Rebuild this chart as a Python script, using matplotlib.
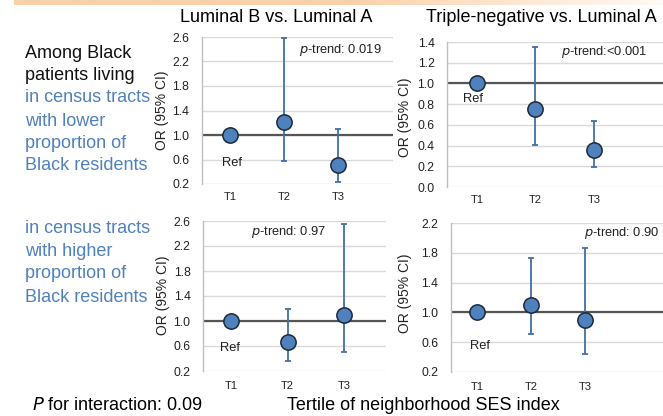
import numpy as np
import matplotlib
matplotlib.use("Agg")
import matplotlib.pyplot as plt

plt.rcParams['font.family'] = ['Liberation Sans', 'DejaVu Sans']

# ---------------- data ----------------
tertiles = ["T1", "T2", "T3"]
panel_titles = ["Luminal B vs. Luminal A", "Triple-negative vs. Luminal A"]

# top row: lower proportion of Black residents
lumb_low_or = [1.0, 1.22, 0.51]
lumb_low_lo = [1.0, 0.57, 0.24]
lumb_low_hi = [1.0, 2.58, 1.09]
tn_low_or = [1.0, 0.75, 0.36]
tn_low_lo = [1.0, 0.41, 0.19]
tn_low_hi = [1.0, 1.35, 0.64]

# bottom row: higher proportion of Black residents
lumb_high_or = [1.0, 0.66, 1.10]
lumb_high_lo = [1.0, 0.36, 0.50]
lumb_high_hi = [1.0, 1.19, 2.55]
tn_high_or = [1.0, 1.10, 0.90]
tn_high_lo = [1.0, 0.71, 0.44]
tn_high_hi = [1.0, 1.73, 1.87]

p_trends = ["0.019", "<0.001", "0.97", "0.90"]
row_labels_top = ["Among Black", "patients living"]
row_labels_low = ["in census tracts", "with lower", "proportion of", "Black residents"]
row_labels_high = ["in census tracts", "with higher", "proportion of", "Black residents"]

# ---------------- layout helpers ----------------
W, H = 663, 416
fig = plt.figure(figsize=(W / 100, H / 100), dpi=100)


def rect(x0, x1, ytop, ybot):
    return [x0 / W, 1 - ybot / H, (x1 - x0) / W, (ybot - ytop) / H]


def ftext(x, y, s, **kw):
    fig.text(x / W, 1 - y / H, s, **kw)


BLUE_TXT = "#4F81BD"
MK_FACE = "#4F81BD"
MK_EDGE = "#1C2A3E"
ERR_C = "#4270A6"

# orange gradient band at top
band = fig.add_axes([14 / W, 1 - 5 / H, (W - 14) / W, 5 / H])
n = 256
t = np.linspace(0, 1, n)
c0 = np.array([0xFB, 0xCF, 0xA7]) / 255
c1 = np.array([0xFF, 0xFA, 0xF5]) / 255
frac = np.clip((t - 0.5) / 0.5, 0, 1)
grad = (c0[None, :] * (1 - frac[:, None]) + c1[None, :] * frac[:, None])[None, :, :]
band.imshow(grad, aspect="auto", extent=[0, 1, 0, 1])
band.axis("off")

panels = [
    dict(r=rect(202, 393, 37, 184), xl=(0.48, 4.02), yl=(0.2, 2.6), yt=np.arange(0.2, 2.61, 0.4),
         orv=lumb_low_or, lo=lumb_low_lo, hi=lumb_low_hi, p=p_trends[0], pxy=(340, 50),
         ref=(1.03, 0.55), ylab=(162, 110)),
    dict(r=rect(447, 663, 42, 187), xl=(0.487, 4.18), yl=(0.0, 1.4), yt=np.arange(0.0, 1.41, 0.2),
         orv=tn_low_or, lo=tn_low_lo, hi=tn_low_hi, p=p_trends[1], pxy=(604, 52),
         ref=(0.93, 0.85), ylab=(405, 117)),
    dict(r=rect(203, 386, 221, 371), xl=(0.504, 3.74), yl=(0.2, 2.6), yt=np.arange(0.2, 2.61, 0.4),
         orv=lumb_high_or, lo=lumb_high_lo, hi=lumb_high_hi, p=p_trends[2], pxy=(289, 232),
         ref=(0.98, 0.565), ylab=(163, 295)),
    dict(r=rect(451, 663, 223, 372), xl=(0.52, 4.44), yl=(0.2, 2.2), yt=np.arange(0.2, 2.21, 0.4),
         orv=tn_high_or, lo=tn_high_lo, hi=tn_high_hi, p=p_trends[3], pxy=(622, 233),
         ref=(1.05, 0.555), ylab=(405, 293)),
]

xs = np.arange(1, len(tertiles) + 1)
for i, P in enumerate(panels):
    ax = fig.add_axes(P["r"])
    ax.set_xlim(*P["xl"])
    ax.set_ylim(*P["yl"])
    ax.set_yticks(P["yt"])
    ax.set_yticklabels([f"{v:.1f}" for v in P["yt"]], fontsize=8.8, color="#222222")
    ax.set_xticks(xs)
    ax.set_xticklabels(tertiles, fontsize=8, color="#222222")
    ax.tick_params(axis="y", length=0, pad=9)
    ax.tick_params(axis="x", length=0, pad=5.5 if i < 2 else 7.5)
    for s in ["top", "right", "bottom"]:
        ax.spines[s].set_visible(False)
    ax.spines["left"].set_color("#BFBFBF")
    ax.spines["left"].set_linewidth(1.0)
    ax.grid(axis="y", color="#D9D9D9", lw=1.0)
    ax.set_axisbelow(True)
    ax.axhline(1.0, color="#555555", lw=1.6, zorder=2)
    orv = np.array(P["orv"])
    lo = np.array(P["lo"])
    hi = np.array(P["hi"])
    yerr = np.vstack([orv - lo, hi - orv])
    ax.errorbar(xs[1:], orv[1:], yerr=yerr[:, 1:], fmt="none", ecolor=ERR_C,
                elinewidth=1.3, capsize=2.5, capthick=1.3, zorder=3)
    ax.plot(xs, orv, ls="none", marker="o", ms=11, mfc=MK_FACE, mec=MK_EDGE,
            mew=1.1, zorder=4)
    ax.text(P["ref"][0], P["ref"][1], "Ref", fontsize=9.3, color="#222222",
            ha="center", va="center")
    ftext(P["pxy"][0], P["pxy"][1], r"$\it{p}$" + "-trend:" + ("" if P["p"].startswith("<") else " ") + P["p"],
          fontsize=9.3, ha="center", va="center", color="#222222")
    ftext(P["ylab"][0], P["ylab"][1], "OR (95% CI)", fontsize=10, rotation=90,
          ha="center", va="center", color="#222222")

# titles
ftext(276, 18, panel_titles[0], fontsize=13, ha="center", va="center")
ftext(541, 18, panel_titles[1], fontsize=13, ha="center", va="center")

# row labels
ys_top = [54, 76]
for s, y in zip(row_labels_top, ys_top):
    ftext(25, y, s, fontsize=13, ha="left", va="center", color="#111111")
ys_low = [98, 121, 143, 165]
for s, y in zip(row_labels_low, ys_low):
    ftext(25, y, s, fontsize=13, ha="left", va="center", color=BLUE_TXT)
ys_high = [228, 252, 274, 297]
for s, y in zip(row_labels_high, ys_high):
    ftext(25, y, s, fontsize=13, ha="left", va="center", color=BLUE_TXT)

# bottom texts
ftext(32, 406, r"$\it{P}$" + " for interaction: 0.09", fontsize=13, ha="left", va="center")
ftext(287, 406, "Tertile of neighborhood SES index", fontsize=13, ha="left", va="center")

fig.savefig("out.png", dpi=100)
